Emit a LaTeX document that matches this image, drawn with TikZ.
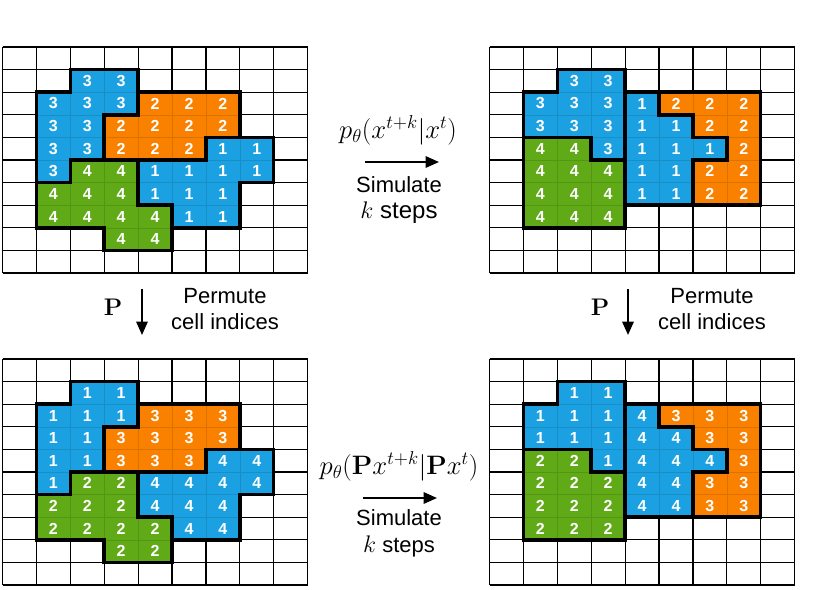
\documentclass[tikz,border=0pt]{standalone}
\usepackage{fix-cm}
\usepackage[no-math]{fontspec}
\newfontfamily\arial{Liberation Sans}
\usetikzlibrary{arrows.meta}
\definecolor{cblue}{HTML}{1BA1E2}
\definecolor{corange}{HTML}{FA8000}
\definecolor{cgreen}{HTML}{60A917}
\tikzset{
  num/.style={text=white, font=\arial\bfseries\fontsize{12}{14}\selectfont, inner sep=0pt},
  gridline/.style={line width=0.9pt, black},
  outline/.style={line width=2.6pt, line join=miter, black},
  lbl/.style={font=\arial\fontsize{16.5}{19}\selectfont, inner sep=0pt, anchor=base},
  mth/.style={font=\fontsize{20}{24}\selectfont, inner sep=0pt, anchor=base},
  bigP/.style={font=\fontsize{18}{22}\selectfont, inner sep=0pt, anchor=base},
  arr/.style={-{Triangle[length=10pt,width=8.5pt]}, line width=1.5pt},
}
\newcommand\cellregion[4]{%
  \foreach \cc/\rr in #3 {
    \fill[#1] (\cc,\rr) rectangle ++(1,1);
    \draw[#1!88!black, line width=0.3pt] (\cc,\rr) rectangle ++(1,1);
    \node[num] (#4-\cc-\rr) at (\cc+0.5,\rr+0.5) {#2};
  }%
}
\newcommand\gridlines{%
  \foreach \i in {0,...,9} \draw[gridline] (\i,0) -- (\i,10);
  \foreach \j in {0,...,10} \draw[gridline] (0,\j) -- (9,\j);
}
\def\TLa{2/1,3/1,1/2,2/2,3/2,1/3,2/3,1/4,2/4,1/5}
\def\TLb{4/2,5/2,6/2,3/3,4/3,5/3,6/3,3/4,4/4,5/4}
\def\TLc{6/4,7/4,4/5,5/5,6/5,7/5,4/6,5/6,6/6,5/7,6/7}
\def\TLd{2/5,3/5,1/6,2/6,3/6,1/7,2/7,3/7,4/7,3/8,4/8}
\def\TRa{2/1,3/1,1/2,2/2,3/2,1/3,2/3,3/3,3/4}
\def\TRc{4/2,4/3,5/3,4/4,5/4,6/4,4/5,5/5,4/6,5/6}
\def\TRb{5/2,6/2,7/2,6/3,7/3,7/4,6/5,7/5,6/6,7/6}
\def\TRd{1/4,2/4,1/5,2/5,3/5,1/6,2/6,3/6,1/7,2/7,3/7}
\begin{document}
\begin{tikzpicture}[x=0.75pt,y=-0.75pt]
\useasboundingbox (0,0) rectangle (830,589);
\fill[white] (0,0) rectangle (830,589);

% ---- top-left grid
\begin{scope}[shift={(2.5,47)}, x=25.425pt, y=-16.95pt]
  \gridlines
  \cellregion{cblue}{3}{\TLa}{tla}
  \cellregion{corange}{2}{\TLb}{tlb}
  \cellregion{cblue}{1}{\TLc}{tlc}
  \cellregion{cgreen}{4}{\TLd}{tld}
  \draw[outline] (2,1)--(4,1)--(4,3)--(3,3)--(3,5)--(2,5)--(2,6)--(1,6)--(1,2)--(2,2)--cycle;
  \draw[outline] (4,2)--(7,2)--(7,4)--(6,4)--(6,5)--(3,5)--(3,3)--(4,3)--cycle;
  \draw[outline] (6,4)--(8,4)--(8,6)--(7,6)--(7,8)--(5,8)--(5,7)--(4,7)--(4,5)--(6,5)--cycle;
  \draw[outline] (2,5)--(4,5)--(4,7)--(5,7)--(5,9)--(3,9)--(3,8)--(1,8)--(1,6)--(2,6)--cycle;
\end{scope}

% ---- bottom-left grid
\begin{scope}[shift={(2.5,359)}, x=25.425pt, y=-16.95pt]
  \gridlines
  \cellregion{cblue}{1}{\TLa}{bla}
  \cellregion{corange}{3}{\TLb}{blb}
  \cellregion{cblue}{4}{\TLc}{blc}
  \cellregion{cgreen}{2}{\TLd}{bld}
  \draw[outline] (2,1)--(4,1)--(4,3)--(3,3)--(3,5)--(2,5)--(2,6)--(1,6)--(1,2)--(2,2)--cycle;
  \draw[outline] (4,2)--(7,2)--(7,4)--(6,4)--(6,5)--(3,5)--(3,3)--(4,3)--cycle;
  \draw[outline] (6,4)--(8,4)--(8,6)--(7,6)--(7,8)--(5,8)--(5,7)--(4,7)--(4,5)--(6,5)--cycle;
  \draw[outline] (2,5)--(4,5)--(4,7)--(5,7)--(5,9)--(3,9)--(3,8)--(1,8)--(1,6)--(2,6)--cycle;
\end{scope}

% ---- top-right grid
\begin{scope}[shift={(489.5,47)}, x=25.425pt, y=-16.95pt]
  \gridlines
  \cellregion{cblue}{3}{\TRa}{tra}
  \cellregion{cblue}{1}{\TRc}{trc}
  \cellregion{corange}{2}{\TRb}{trb}
  \cellregion{cgreen}{4}{\TRd}{trd}
  \draw[outline] (2,1)--(4,1)--(4,5)--(3,5)--(3,4)--(1,4)--(1,2)--(2,2)--cycle;
  \draw[outline] (4,2)--(5,2)--(5,3)--(6,3)--(6,4)--(7,4)--(7,5)--(6,5)--(6,7)--(4,7)--cycle;
  \draw[outline] (5,2)--(8,2)--(8,7)--(6,7)--(6,5)--(7,5)--(7,4)--(6,4)--(6,3)--(5,3)--cycle;
  \draw[outline] (1,4)--(3,4)--(3,5)--(4,5)--(4,8)--(1,8)--cycle;
\end{scope}

% ---- bottom-right grid
\begin{scope}[shift={(489.5,359)}, x=25.425pt, y=-16.95pt]
  \gridlines
  \cellregion{cblue}{1}{\TRa}{bra}
  \cellregion{cblue}{4}{\TRc}{brc}
  \cellregion{corange}{3}{\TRb}{brb}
  \cellregion{cgreen}{2}{\TRd}{brd}
  \draw[outline] (2,1)--(4,1)--(4,5)--(3,5)--(3,4)--(1,4)--(1,2)--(2,2)--cycle;
  \draw[outline] (4,2)--(5,2)--(5,3)--(6,3)--(6,4)--(7,4)--(7,5)--(6,5)--(6,7)--(4,7)--cycle;
  \draw[outline] (5,2)--(8,2)--(8,7)--(6,7)--(6,5)--(7,5)--(7,4)--(6,4)--(6,3)--(5,3)--cycle;
  \draw[outline] (1,4)--(3,4)--(3,5)--(4,5)--(4,8)--(1,8)--cycle;
\end{scope}

% ---- top middle labels
\node[mth] (m1) at (398,138) {$p_\theta(x^{t+k}|x^t)$};
\coordinate (a1s) at (365,162);
\coordinate (a1e) at (439,162);
\draw[arr] (a1s) -- (a1e);
\node[lbl] (s1) at (399,192.5) {Simulate};
\node[lbl] (k1) at (399,218) {\fontsize{18}{22}\selectfont$k$ steps};

% ---- bottom middle labels
\node[mth] (m2) at (399,474) {$p_\theta(\mathbf{P}x^{t+k}|\mathbf{P}x^t)$};
\coordinate (a2s) at (363,498);
\coordinate (a2e) at (437,498);
\draw[arr] (a2s) -- (a2e);
\node[lbl] (s2) at (399,525) {Simulate};
\node[lbl] (k2) at (399,552) {\fontsize{18}{22}\selectfont$k$\fontsize{16.5}{19}\selectfont{} steps};

% ---- left permutation
\node[bigP] (P1) at (113,315) {$\mathbf{P}$};
\coordinate (d1s) at (142,289);
\coordinate (d1e) at (142,335);
\draw[arr] (d1s) -- (d1e);
\node[lbl] (p1a) at (225,303) {Permute};
\node[lbl] (p1b) at (225,329) {cell indices};

% ---- right permutation
\node[bigP] (P2) at (600,315) {$\mathbf{P}$};
\coordinate (d2s) at (628,289);
\coordinate (d2e) at (628,335);
\draw[arr] (d2s) -- (d2e);
\node[lbl] (p2a) at (712,303) {Permute};
\node[lbl] (p2b) at (712,329) {cell indices};
\end{tikzpicture}
\end{document}
